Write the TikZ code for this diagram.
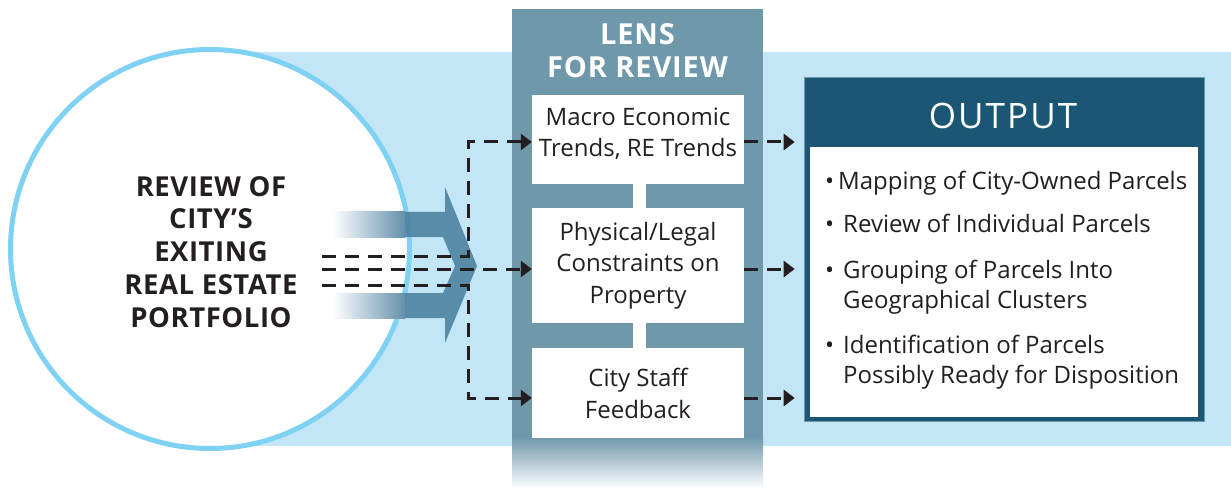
\documentclass[tikz,border=0pt]{standalone}
\usepackage{fontspec}
\setmainfont{Open Sans}
\usetikzlibrary{arrows.meta}
\definecolor{band}{HTML}{C3E6F7}
\definecolor{lens}{HTML}{7098AB}
\definecolor{outc}{HTML}{1B5674}
\definecolor{ring}{HTML}{7FD2F4}
\definecolor{arr}{HTML}{477D9C}
\definecolor{arrmix}{HTML}{6390AB}
\definecolor{ink}{HTML}{231F20}
\begin{document}
\begin{tikzpicture}[x=1pt,y=-1pt,
  boxtxt/.style={text=ink, align=center, anchor=base, inner sep=0pt,
    font=\fontsize{24}{31.5}\selectfont},
  lensbox/.style={fill=white, inner sep=0pt, minimum width=212pt},
  itemtxt/.style={text=ink, align=left, anchor=base west, inner sep=0pt,
    font=\fontsize{24}{30}\selectfont},
  bul/.style={text=ink, anchor=base west, inner sep=0pt, font=\fontsize{24}{30}\selectfont},
  dashline/.style={draw=ink, line width=3pt, dash pattern=on 14pt off 9pt},
  tip/.style={-{Triangle[length=11pt,width=16pt]}}]
\useasboundingbox (0,0) rectangle (1231,489);
% light band
\fill[band] (200,52) rectangle (1231,446);
% lens column
\node[fill=lens, inner sep=0pt, minimum width=251pt, minimum height=429pt] (lens) at (637.5,223.5) {};
\shade[top color=lens, bottom color=white] (512,437.5) rectangle (763,489);
\node[text=white, anchor=base, inner sep=0pt, align=center,
  font=\fontsize{29}{33}\selectfont\bfseries\addfontfeatures{LetterSpace=3}] (lenstitle) at (637.5,78) {LENS\\FOR REVIEW};
% connector strips between lens boxes
\fill[white] (633,184) rectangle (646,348);
% lens boxes
\node[lensbox, minimum height=89pt] (b1) at (638,139.5) {};
\node[lensbox, minimum height=115pt] (b2) at (638,265.5) {};
\node[lensbox, minimum height=90pt] (b3) at (638,393) {};
\node[boxtxt] (t1) at (638,157) {Macro Economic\\Trends, RE Trends};
\node[boxtxt] (t2) at (638,303) {Physical/Legal\\Constraints on\\Property};
\node[boxtxt] (t3) at (638,418) {City Staff\\Feedback};
% circle
\node[circle, draw=ring, line width=5pt, fill=white, minimum size=399pt, inner sep=0pt] (circ) at (210,249) {};
\node[text=ink, anchor=base, align=center, inner sep=0pt,
  font=\fontsize{27.5}{32.75}\selectfont\bfseries\addfontfeatures{LetterSpace=2}] (circtext) at (211,327)
  {REVIEW OF\\CITY’S\\EXITING\\REAL ESTATE\\PORTFOLIO};
% big arrow
\shade[left color=white, right color=arrmix] (333,212) rectangle (405,237);
\shade[left color=white, right color=arrmix] (333,293) rectangle (405,318);
\fill[arr, opacity=0.85] (405,212) -- (445,212) -- (445,187) -- (477,266) -- (445,343) -- (445,318)
  -- (405,318) -- (405,293) -- (443,293) -- (455,266) -- (443,237) -- (405,237) -- cycle;
% dashed connectors
\coordinate (s1) at (322,256);
\coordinate (s2) at (322,269);
\coordinate (s3) at (322,285);
\coordinate (v1) at (468,256);
\coordinate (v3) at (468,285);
\draw[dashline, tip] (s1) -- (v1) |- ([yshift=-2.5pt]b1.west);
\draw[dashline, tip] (s2) -- (s2 -| b2.west);
\draw[dashline, tip] (s3) -- (v3) |- ([yshift=-5pt]b3.west);
% output box
\node[fill=outc, draw=lens, line width=0.6pt, inner sep=0pt, minimum width=400pt, minimum height=344pt] (out) at (1004,249) {};
\node[fill=white, inner sep=0pt, minimum width=388pt, minimum height=270pt] (outin) at (1004,282) {};
\node[text=white, anchor=base, inner sep=0pt,
  font=\fontsize{35}{40}\selectfont\addfontfeatures{LetterSpace=6}] (outtitle) at (1003,129) {OUTPUT};
\draw[dashline, tip, shorten >=9pt] ([yshift=-2.5pt]b1.east) -- ([yshift=-2.5pt]b1.east -| out.west);
\draw[dashline, tip, shorten >=9pt] (s2 -| b2.east) -- (s2 -| out.west);
\draw[dashline, tip, shorten >=9pt] ([yshift=-5pt]b3.east) -- ([yshift=-5pt]b3.east -| out.west);
% items
\node[bul] (p1) at (825,190) {•};
\node[itemtxt] (i1) at (838,190) {Mapping of City-Owned Parcels};
\node[bul] (p2) at (825,233) {•};
\node[itemtxt] (i2) at (843,233) {Review of Individual Parcels};
\node[bul] (p3) at (825,278) {•};
\node[itemtxt] (i3) at (843,308) {Grouping of Parcels Into\\Geographical Clusters};
\node[bul] (p4) at (825,353) {•};
\node[itemtxt] (i4) at (843,383) {Identification of Parcels\\Possibly Ready for Disposition};
\end{tikzpicture}
\end{document}
